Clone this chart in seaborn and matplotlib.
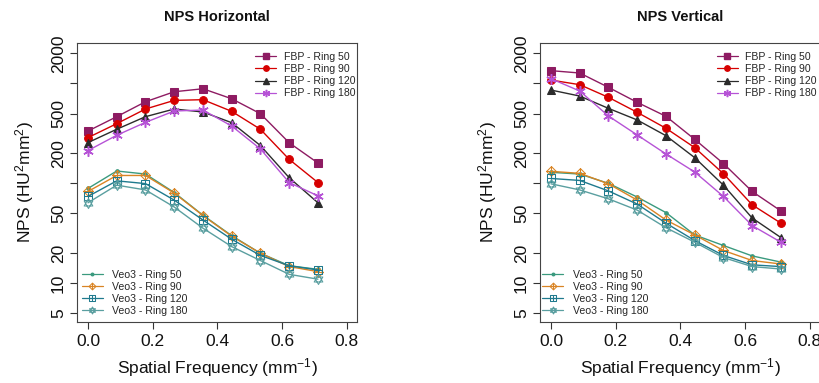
import numpy as np
import matplotlib
matplotlib.use("Agg")
import matplotlib.pyplot as plt
from matplotlib.path import Path
from matplotlib.lines import Line2D
import seaborn as sns

# ---------------- data ----------------
freq = [0.0, 0.0889, 0.1778, 0.2667, 0.3556, 0.4444, 0.5333, 0.6222, 0.7111]

h_fbp50 = [334, 465, 656, 826, 885, 703, 498, 255, 160]
h_fbp90 = [287, 396, 555, 677, 688, 526, 348, 174, 102]
h_fbp120 = [256, 348, 465, 555, 518, 405, 239, 114, 64]
h_fbp180 = [213, 303, 408, 530, 542, 375, 221, 102, 75]
h_veo50 = [89, 133, 124, 81, 48, 30, 20, 15, 13.8]
h_veo90 = [83, 120, 120, 80, 47.6, 29.6, 20, 14.7, 13.1]
h_veo120 = [74, 106, 99.5, 68, 43, 27.6, 19, 15, 13.6]
h_veo180 = [64, 96, 86, 58, 35.6, 23.3, 16.9, 12.3, 11]

v_fbp50 = [1343, 1272, 914, 647, 469, 276, 158, 83, 53]
v_fbp90 = [1081, 972, 726, 514, 356, 228, 125, 61, 40]
v_fbp120 = [859, 748, 563, 431, 300, 181, 96, 45, 28.7]
v_fbp180 = [1116, 840, 472, 305, 197, 130, 74, 37.8, 25.8]
v_veo50 = [129, 124, 100, 73, 51, 30.5, 23.9, 18.8, 16.3]
v_veo90 = [132, 126, 99, 68, 43, 30.5, 21.3, 16.9, 15.6]
v_veo120 = [112, 107, 84, 62, 40, 26.8, 19, 15.3, 14.7]
v_veo180 = [99, 86, 70, 54, 36, 25.8, 18.1, 14.7, 13.9]

fbp_labels = ["FBP - Ring 50", "FBP - Ring 90", "FBP - Ring 120", "FBP - Ring 180"]
veo_labels = ["Veo3 - Ring 50", "Veo3 - Ring 90", "Veo3 - Ring 120", "Veo3 - Ring 180"]
titles = ["NPS Horizontal", "NPS Vertical"]
ytick_vals = [5, 10, 20, 50, 100, 200, 500, 1000, 2000]
ytick_labels = ["5", "10", "20", "50", "", "200", "500", "", "2000"]
xtick_vals = [0.0, 0.2, 0.4, 0.6, 0.8]
xtick_labels = ["0.0", "0.2", "0.4", "0.6", "0.8"]

# ---------------- custom markers ----------------
M, L, C = Path.MOVETO, Path.LINETO, Path.CLOSEPOLY
sq_plus = Path([(-1, -1), (1, -1), (1, 1), (-1, 1), (-1, -1),
                (-1, 0), (1, 0), (0, -1), (0, 1)],
               [M, L, L, L, C, M, L, M, L])
dia_plus = Path([(0, -1), (1, 0), (0, 1), (-1, 0), (0, -1),
                 (-1, 0), (1, 0), (0, -1), (0, 1)],
                [M, L, L, L, C, M, L, M, L])
s3 = 0.866
star_david = Path([(0, 1), (-s3, -0.5), (s3, -0.5), (0, 1),
                   (0, -1), (s3, 0.5), (-s3, 0.5), (0, -1)],
                  [M, L, L, C, M, L, L, C])

c_fbp = ["#8E1B62", "#D60000", "#2B2B2B", "#B653D6"]
c_veo = ["#3A9A7E", "#D98424", "#1F7A8E", "#5A9FA0"]

fbp_style = [
    dict(marker="s", markersize=5.2, markerfacecolor=c_fbp[0], markeredgecolor=c_fbp[0]),
    dict(marker="o", markersize=5.6, markerfacecolor=c_fbp[1], markeredgecolor=c_fbp[1]),
    dict(marker="^", markersize=5.8, markerfacecolor=c_fbp[2], markeredgecolor=c_fbp[2]),
    dict(marker=(6, 2, 0), markersize=7.5, markerfacecolor=c_fbp[3],
         markeredgecolor=c_fbp[3], markeredgewidth=1.1),
]
veo_style = [
    dict(marker="o", markersize=2.6, markerfacecolor=c_veo[0], markeredgecolor=c_veo[0]),
    dict(marker=dia_plus, markersize=7.0, markerfacecolor="none", fillstyle="none",
         markeredgecolor=c_veo[1], markeredgewidth=0.75),
    dict(marker=sq_plus, markersize=5.8, markerfacecolor="none", fillstyle="none",
         markeredgecolor=c_veo[2], markeredgewidth=0.75),
    dict(marker=star_david, markersize=7.2, markerfacecolor="none", fillstyle="none",
         markeredgecolor=c_veo[3], markeredgewidth=0.75),
]

sns.set_theme(style="ticks")
plt.rcParams["font.family"] = ["Liberation Sans", "DejaVu Sans"]
plt.rcParams["mathtext.fontset"] = "custom"
plt.rcParams["mathtext.rm"] = "Liberation Sans"
plt.rcParams["mathtext.it"] = "Liberation Sans"

fig = plt.figure(figsize=(8.19, 3.83), dpi=100)
fig.patch.set_facecolor("white")

ax_pos = [[77 / 819, 61 / 383, 280 / 819, 279 / 383],
          [540 / 819, 61 / 383, 280 / 819, 279 / 383]]
fbp_leg_anchor = [(255 / 819, (383 - 52) / 383), (716.5 / 819, (383 - 52) / 383)]
veo_leg_anchor = [(81.5 / 819, (383 - 269.5) / 383), (542 / 819, (383 - 269.5) / 383)]

datasets = [
    ([h_fbp50, h_fbp90, h_fbp120, h_fbp180], [h_veo50, h_veo90, h_veo120, h_veo180]),
    ([v_fbp50, v_fbp90, v_fbp120, v_fbp180], [v_veo50, v_veo90, v_veo120, v_veo180]),
]

for i, (fbp, veo) in enumerate(datasets):
    ax = fig.add_axes(ax_pos[i])
    ax.set_facecolor("white")
    for vals, col, st in zip(veo, c_veo, veo_style):
        sns.lineplot(x=freq, y=vals, ax=ax, color=col, lw=1.0, **st)
    for vals, col, st in zip(fbp, c_fbp, fbp_style):
        sns.lineplot(x=freq, y=vals, ax=ax, color=col, lw=1.0, **st)
    ax.set_yscale("log")
    ax.set_ylim(4.1, 2540)
    ax.set_xlim(-0.034, 0.832)
    ax.set_yticks(ytick_vals)
    ax.set_yticklabels(ytick_labels, rotation=90, va="center")
    ax.yaxis.set_minor_locator(matplotlib.ticker.NullLocator())
    ax.set_xticks(xtick_vals)
    ax.set_xticklabels(xtick_labels)
    ax.tick_params(axis="both", labelsize=12.5, length=5, width=0.8,
                   color="#333333", labelcolor="#111111")
    ax.tick_params(axis="y", pad=3)
    ax.tick_params(axis="x", pad=4)
    for sp in ax.spines.values():
        sp.set_visible(True)
        sp.set_color("#444444")
        sp.set_linewidth(0.8)
    ax.set_xlabel("Spatial Frequency (mm$^{-1}$)", fontsize=12.5, labelpad=5, color="#111111")
    ax.set_ylabel("NPS (HU$^2$mm$^2$)", fontsize=12.5, labelpad=11, color="#111111")
    ax.set_title(titles[i], fontsize=10.5, fontweight="bold", pad=16, color="#111111")
    if ax.get_legend() is not None:
        ax.get_legend().remove()

    fbp_handles = [Line2D([], [], color=c, lw=0.9, **st) for c, st in zip(c_fbp, fbp_style)]
    veo_handles = [Line2D([], [], color=c, lw=0.9, **st) for c, st in zip(c_veo, veo_style)]
    leg1 = ax.legend(fbp_handles, fbp_labels, loc="upper left",
                     bbox_to_anchor=fbp_leg_anchor[i], bbox_transform=fig.transFigure,
                     frameon=False, fontsize=7.6, markerscale=0.7, handlelength=2.0,
                     handletextpad=0.7, labelspacing=0.2, borderpad=0, borderaxespad=0)
    ax.add_artist(leg1)
    ax.legend(veo_handles, veo_labels, loc="upper left",
              bbox_to_anchor=veo_leg_anchor[i], bbox_transform=fig.transFigure,
              frameon=False, fontsize=7.6, markerscale=0.7, handlelength=2.0,
              handletextpad=0.9, labelspacing=0.2, borderpad=0, borderaxespad=0)

fig.savefig("out.png", dpi=100, facecolor="white")
